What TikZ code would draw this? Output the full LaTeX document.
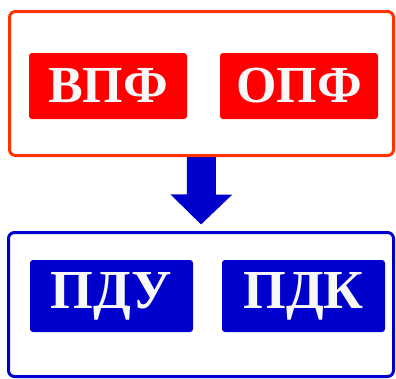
\documentclass[tikz,border=0pt]{standalone}
\usepackage{fontspec}
\setmainfont{Liberation Serif}
\usetikzlibrary{arrows.meta, backgrounds}
\definecolor{frameorange}{HTML}{FF3300}
\definecolor{boxred}{HTML}{FF0000}
\definecolor{boxblue}{HTML}{0000CC}
\definecolor{lettergray}{HTML}{F8F8F8}

\begin{document}
\begin{tikzpicture}[
            x=1pt, y=-1pt,
            frame/.style={draw, line width=3pt, rounded corners=6pt, minimum width=384pt, minimum height=144pt},
            tag/.style={rounded corners=3pt, inner sep=0pt, text=lettergray, font=\fontsize{52}{52}\selectfont\bfseries},
            redtag/.style={tag, fill=boxred, minimum width=158pt, minimum height=66pt},
            bluetag/.style={tag, fill=boxblue, minimum width=163pt, minimum height=72pt, font=\fontsize{55}{55}\selectfont\bfseries},
            fatarrow/.style={-{Triangle[width=60pt, length=30pt]}, line width=29pt, draw=boxblue}
        ]
            \useasboundingbox (0,0) rectangle (396,378);
            \node[frame, draw=frameorange] (upper) at (201.5,83.5) {};
            \node[frame, draw=boxblue, minimum width=385pt] (lower) at (201,304.5) {};
            \node[redtag] (vpf) at (108,86) {ВПФ};
            \node[redtag] (opf) at (299,86) {ОПФ};
            \node[bluetag] (pdu) at (111.5,296) {ПДУ};
            \node[bluetag] (pdk) at (303.5,296) {ПДК};
            \begin{scope}[on background layer]
                \draw[fatarrow, shorten >=6.5pt] (upper.south) -- (lower.north);
            \end{scope}
        \end{tikzpicture}
\end{document}
